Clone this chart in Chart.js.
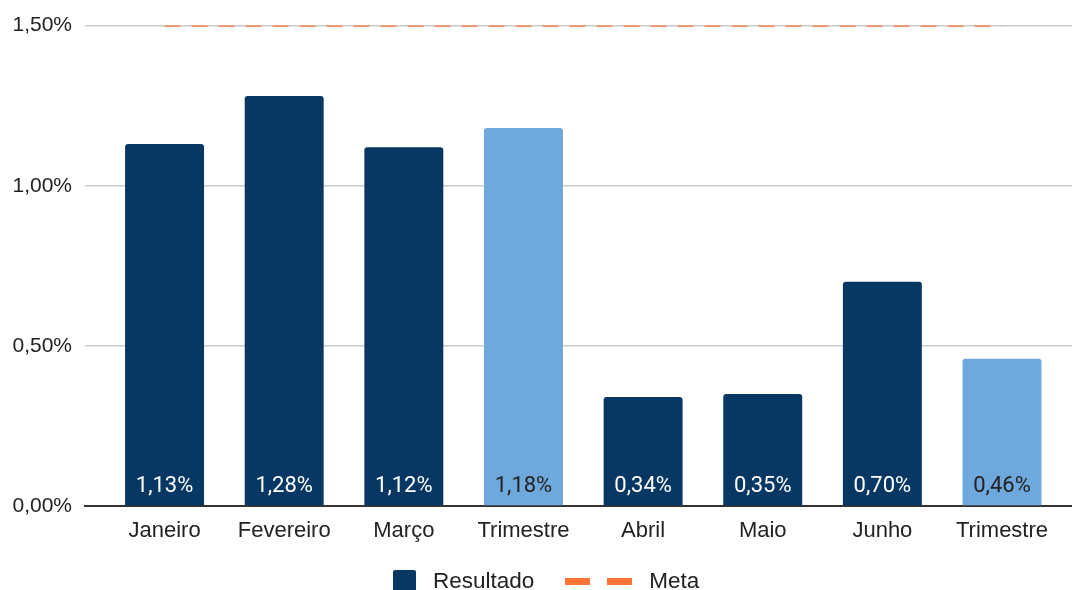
<!DOCTYPE html>
<html>
<head>
<meta charset="utf-8">
<script src="https://cdn.jsdelivr.net/npm/chart.js@4"></script>
<style>
	body { margin: 0; background: #fff; }
	#wrap { position: relative; width: 1072px; height: 590px; overflow: hidden; }
	#legend { position: absolute; left: 393px; top: 568px; display: flex; align-items: center;
		font-family: "Liberation Sans", Arial, sans-serif; font-size: 22.5px; color: #222; }
	.sq { width: 23px; height: 23px; background: #073763; border-radius: 2px; margin-right: 17px; }
	.dash { width: 25px; height: 7px; background: #ff7436; }
</style>
</head>
<body>
<div id="wrap">
	<canvas id="chart" width="1072" height="590"></canvas>
	<div id="legend">
		<div class="sq"></div><span>Resultado</span>
		<div class="dash" style="margin-left:31px"></div>
		<div class="dash" style="margin-left:17px"></div>
		<span style="margin-left:17px">Meta</span>
	</div>
</div>
<script>
var months = ["Janeiro", "Fevereiro", "Março", "Trimestre", "Abril", "Maio", "Junho", "Trimestre"];
var resultado = [1.13, 1.28, 1.12, 1.18, 0.34, 0.35, 0.70, 0.46];
var meta = [1.5, 1.5, 1.5, 1.5, 1.5, 1.5, 1.5, 1.5];
var isTrimestre = [false, false, false, true, false, false, false, true];
var yTicks = [0, 0.5, 1, 1.5];

var dark = "#073763";
var light = "#6fa8dc";

function fmt(v){
	return v.toFixed(2).replace(".", ",") + "%";
}

// labels inside bars, at the bottom
var barLabels = {
	id: "barLabels",
	afterDatasetsDraw: function(chart){
		var ctx = chart.ctx;
		var meta0 = chart.getDatasetMeta(0);
		ctx.save();
		ctx.font = "22px Roboto";
		ctx.textAlign = "center";
		ctx.textBaseline = "middle";
		meta0.data.forEach(function(bar, i){
			ctx.fillStyle = isTrimestre[i] ? "#222" : "#fff";
			ctx.fillText(fmt(resultado[i]), bar.x, bar.base - 19);
		});
		ctx.restore();
	}
};

var chart = new Chart(document.getElementById("chart").getContext("2d"), {
	type: "bar",
	data: {
		datasets: [{
			label: "Resultado",
			data: resultado.map(function(v, i){ return {x: i, y: v}; }),
			backgroundColor: isTrimestre.map(function(t){ return t ? light : dark; }),
			borderRadius: {topLeft: 3, topRight: 3},
			borderSkipped: "bottom",
			categoryPercentage: 1,
			barPercentage: 0.66,
			order: 2
		}, {
			type: "line",
			label: "Meta",
			data: meta.map(function(v, i){ return {x: i, y: v}; }),
			borderColor: "#ff7436",
			borderWidth: 2.5,
			borderDash: [16, 11],
			pointRadius: 0,
			fill: false,
			order: 1
		}]
	},
	options: {
		responsive: false,
		animation: false,
		layout: { padding: { top: 10, right: 0, bottom: 0, left: 0 } },
		plugins: { legend: { display: false }, tooltip: { enabled: false } },
		scales: {
			x: {
				type: "linear",
				offset: false,
				min: -0.665,
				max: 7.585,
				afterFit: function(s){ s.height = 84; },
				grid: { display: false },
				border: { color: "#333", width: 2 },
				ticks: {
					stepSize: 1,
					includeBounds: false,
					autoSkip: false,
					maxRotation: 0,
					padding: 4,
					color: "#222",
					font: { family: "Liberation Sans", size: 22 },
					callback: function(v){ return Number.isInteger(v) ? months[v] : ""; }
				}
			},
			y: {
				min: 0,
				max: 1.5,
				afterFit: function(s){ s.width = 85; },
				afterBuildTicks: function(s){ s.ticks = yTicks.map(function(v){ return {value: v}; }); },
				grid: { color: "#ccc", lineWidth: 1.5, drawTicks: false },
				border: { display: false },
				ticks: {
					padding: 13,
					color: "#222",
					font: { family: "Liberation Sans", size: 21 },
					callback: function(v){ return fmt(v); }
				}
			}
		}
	},
	plugins: [barLabels]
});
</script>
</body>
</html>
